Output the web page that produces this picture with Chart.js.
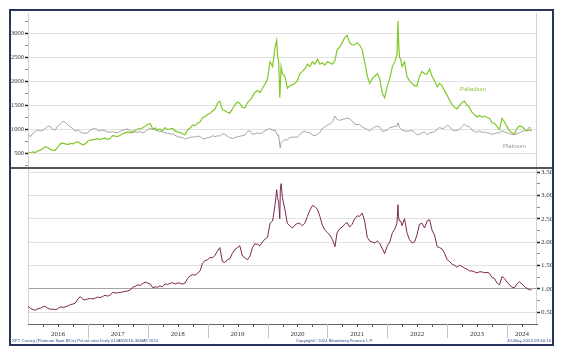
<!DOCTYPE html>
<html><head><meta charset="utf-8">
<script src="https://cdn.jsdelivr.net/npm/chart.js@4/dist/chart.umd.min.js"></script>
<style>
html,body{margin:0;padding:0;background:#fff;}
#wrap{position:relative;width:564px;height:356px;overflow:hidden;background:#fff;}
canvas{position:absolute;left:0;}
#cTop{top:0;}
#cBot{top:168px;}
#frame{position:absolute;left:9px;top:9px;width:541px;height:333px;border:2px solid #27355f;z-index:3;}
#sep{position:absolute;left:11px;top:167px;width:541px;height:2px;background:#555;z-index:3;}
.lbl{position:absolute;font-family:"Liberation Sans",Arial,sans-serif;white-space:nowrap;z-index:4;line-height:1;}
.foot{position:absolute;font-family:"Liberation Sans",Arial,sans-serif;color:#2d4f8e;white-space:nowrap;z-index:4;line-height:1;}
</style></head>
<body>
<div id="wrap">
<canvas id="cTop" width="564" height="168"></canvas>
<canvas id="cBot" width="564" height="188"></canvas>
<div id="frame"></div>
<div id="sep"></div>
<div class="lbl" style="left:460px;top:86px;font-size:6px;color:#8cc63f;">Palladium</div>
<div class="lbl" style="left:503px;top:143px;font-size:6px;color:#9a9a9a;">Platinum</div>
<div class="foot" style="left:12px;top:339px;font-size:4.3px;">XPT Curncy (Platinum Spot $/Oz) Pd val ratio Daily 01JAN2016-30MAY2024</div>
<div class="foot" style="left:296px;top:339px;font-size:4.2px;">Copyright© 2024 Bloomberg Finance L.P.</div>
<div class="foot" style="left:507px;top:339px;font-size:4.4px;">30-May-2024 09:40:15</div>
</div>
<script>
const dates = [
'2016-01-01','2016-01-16','2016-02-01','2016-02-16','2016-03-01','2016-03-16','2016-04-01','2016-04-16','2016-05-01','2016-05-16','2016-06-01','2016-06-16','2016-07-01','2016-07-16','2016-08-01','2016-08-16','2016-09-01','2016-09-16','2016-10-01','2016-10-16','2016-11-01','2016-11-16','2016-12-01','2016-12-16',
'2017-01-01','2017-01-16','2017-02-01','2017-02-16','2017-03-01','2017-03-16','2017-04-01','2017-04-16','2017-05-01','2017-05-16','2017-06-01','2017-06-16','2017-07-01','2017-07-16','2017-08-01','2017-08-16','2017-09-01','2017-09-16','2017-10-01','2017-10-16','2017-11-01','2017-11-16','2017-12-01','2017-12-16',
'2018-01-01','2018-01-16','2018-02-01','2018-02-16','2018-03-01','2018-03-16','2018-04-01','2018-04-16','2018-05-01','2018-05-16','2018-06-01','2018-06-16','2018-07-01','2018-07-16','2018-08-01','2018-08-16','2018-09-01','2018-09-16','2018-10-01','2018-10-16','2018-11-01','2018-11-16','2018-12-01','2018-12-16',
'2019-01-01','2019-01-16','2019-02-01','2019-02-16','2019-03-01','2019-03-16','2019-04-01','2019-04-16','2019-05-01','2019-05-16','2019-06-01','2019-06-16','2019-07-01','2019-07-16','2019-08-01','2019-08-16','2019-09-01','2019-09-16','2019-10-01','2019-10-16','2019-11-01','2019-11-16','2019-12-01','2019-12-16',
'2020-01-01','2020-01-16','2020-02-01','2020-02-16','2020-02-26','2020-03-02','2020-03-09','2020-03-16','2020-03-19','2020-03-24','2020-04-01','2020-04-16','2020-05-01','2020-05-16','2020-06-01','2020-06-16','2020-07-01','2020-07-16','2020-08-01','2020-08-16','2020-09-01','2020-09-16','2020-10-01','2020-10-16','2020-11-01','2020-11-16','2020-12-01','2020-12-16',
'2021-01-01','2021-01-16','2021-02-01','2021-02-16','2021-03-01','2021-03-16','2021-04-01','2021-04-16','2021-05-01','2021-05-16','2021-06-01','2021-06-16','2021-07-01','2021-07-16','2021-08-01','2021-08-16','2021-09-01','2021-09-16','2021-10-01','2021-10-16','2021-11-01','2021-11-16','2021-12-01','2021-12-16',
'2022-01-01','2022-01-16','2022-02-01','2022-02-16','2022-03-01','2022-03-07','2022-03-10','2022-03-16','2022-03-24','2022-04-01','2022-04-16','2022-05-01','2022-05-16','2022-06-01','2022-06-16','2022-07-01','2022-07-16','2022-08-01','2022-08-16','2022-09-01','2022-09-16','2022-10-01','2022-10-16','2022-11-01','2022-11-16','2022-12-01','2022-12-16',
'2023-01-01','2023-01-16','2023-02-01','2023-02-16','2023-03-01','2023-03-16','2023-04-01','2023-04-16','2023-05-01','2023-05-16','2023-06-01','2023-06-16','2023-07-01','2023-07-16','2023-08-01','2023-08-16','2023-09-01','2023-09-16','2023-10-01','2023-10-16','2023-11-01','2023-11-16','2023-12-01','2023-12-16',
'2024-01-01','2024-01-16','2024-02-01','2024-02-16','2024-03-01','2024-03-16','2024-04-01','2024-04-16','2024-05-01','2024-05-16','2024-05-30'
];
const palladium = [
505,510,525,510,545,560,590,630,615,575,555,560,620,690,705,690,675,700,690,720,735,700,670,690,
750,770,780,790,800,780,800,810,780,800,860,850,840,870,900,920,940,920,950,970,1000,1010,1020,1060,
1100,1110,1000,1020,980,1000,960,1030,990,1000,1010,960,940,930,900,880,980,1020,1080,1070,1120,1150,1230,1260,
1300,1330,1380,1420,1530,1580,1400,1380,1350,1330,1420,1500,1560,1530,1450,1440,1550,1600,1680,1760,1800,1760,1850,1930,
2050,2400,2300,2700,2850,2550,2400,1650,1900,2300,2150,2100,1850,1900,1920,1950,2000,2150,2200,2250,2350,2300,2400,2350,2450,2350,2380,2330,
2400,2380,2350,2420,2650,2700,2800,2900,2950,2800,2750,2750,2800,2750,2650,2400,2100,1950,2050,2100,2150,2050,1750,1650,
1900,2050,2300,2400,2550,3250,2900,2500,2450,2300,2400,2100,2000,1950,1900,1900,2100,2200,2150,2150,2250,2100,2000,1880,1950,1900,1800,
1700,1600,1500,1450,1420,1480,1550,1580,1500,1450,1350,1300,1250,1280,1250,1270,1240,1220,1130,1120,1050,990,1220,1150,
1050,960,920,900,1010,1060,1050,1000,960,980,960
];
const platinum = [
880,840,920,950,980,960,970,1010,1060,1050,990,980,1060,1100,1160,1140,1080,1040,1010,950,980,940,920,910,
920,980,1000,1020,970,960,980,960,940,935,940,930,920,950,975,990,1000,960,920,940,930,950,920,940,
990,1010,990,980,960,950,940,920,910,900,890,870,840,830,820,790,810,820,840,830,850,845,800,800,
820,830,860,840,860,850,900,890,850,820,800,820,840,850,860,870,950,960,890,900,920,900,930,960,
990,1010,970,980,900,860,880,650,600,720,740,780,770,820,830,830,830,880,940,950,920,930,870,860,890,930,1010,1040,
1080,1100,1150,1270,1200,1180,1200,1210,1230,1210,1170,1100,1090,1100,1040,1020,990,960,1010,1040,1060,1040,950,960,
980,1030,1040,1060,1060,1130,1120,1030,1000,980,960,950,960,970,930,880,890,920,940,880,920,930,940,1000,1030,1010,1020,
1080,1050,980,960,970,990,1050,1100,1060,1050,980,950,930,960,930,940,920,910,890,900,920,920,960,940,
920,900,890,880,900,920,950,960,970,1040,1010
];
const ratio = [
0.62,0.58,0.55,0.54,0.57,0.58,0.61,0.62,0.58,0.56,0.56,0.55,0.57,0.61,0.60,0.61,0.63,0.66,0.67,0.69,0.78,0.83,0.77,0.76,
0.78,0.79,0.78,0.80,0.82,0.81,0.83,0.86,0.84,0.86,0.92,0.91,0.91,0.92,0.93,0.94,0.95,0.97,1.03,1.05,1.08,1.07,1.11,1.14,
1.12,1.10,1.02,1.04,1.03,1.06,1.04,1.10,1.09,1.11,1.13,1.10,1.12,1.12,1.10,1.12,1.22,1.27,1.30,1.29,1.33,1.38,1.55,1.60,
1.62,1.67,1.66,1.72,1.80,1.88,1.58,1.56,1.62,1.64,1.76,1.84,1.88,1.92,1.70,1.66,1.62,1.70,1.88,1.96,1.95,1.92,2.00,2.06,
2.10,2.40,2.45,2.80,3.12,2.95,2.85,2.50,3.10,3.25,2.95,2.70,2.40,2.35,2.30,2.36,2.40,2.40,2.35,2.40,2.55,2.68,2.78,2.76,2.70,2.55,2.36,2.26,
2.20,2.15,2.05,1.90,2.20,2.28,2.32,2.38,2.42,2.32,2.38,2.50,2.56,2.55,2.62,2.45,2.10,2.02,2.00,1.98,2.02,1.97,1.86,1.75,
1.92,2.00,2.20,2.28,2.40,2.80,2.55,2.45,2.45,2.35,2.50,2.20,2.05,1.98,2.00,2.15,2.38,2.40,2.30,2.45,2.48,2.25,2.15,1.90,1.88,1.85,1.76,
1.62,1.58,1.52,1.50,1.46,1.50,1.48,1.44,1.42,1.38,1.38,1.36,1.34,1.36,1.36,1.34,1.35,1.33,1.24,1.22,1.12,1.08,1.26,1.22,
1.14,1.08,1.03,1.02,1.10,1.15,1.10,1.05,1.00,0.98,0.97
];
const yearLabels = ['2016','2017','2018','2019','2020','2021','2022','2023','2024'];
const yearCenters = [2016.5,2017.5,2018.5,2019.5,2020.5,2021.5,2022.5,2023.5,2024.25];
const yearBounds = [2017,2018,2019,2020,2021,2022,2023,2024];
const priceTicks = [500,1000,1500,2000,2500,3000];
const ratioTicks = [0.5,1.0,1.5,2.0,2.5,3.0,3.5];

const X_MIN = 2016, X_MAX = 2024.5;
function toYear(s){
  const [y,m,d] = s.split('-').map(Number);
  const a = Date.UTC(y,0,1), b = Date.UTC(y+1,0,1);
  return y + (Date.UTC(y,m-1,d)-a)/(b-a);
}
const xv = dates.map(toYear);
const pts = arr => arr.map((v,i)=>({x:xv[i], y:v}));

const edgeLines = {
  id:'edgeLines',
  beforeDatasetsDraw(chart){
    const {ctx, chartArea:a} = chart;
    ctx.save(); ctx.strokeStyle='#d2d2d2'; ctx.lineWidth=1;
    ctx.beginPath();
    ctx.moveTo(a.left+0.5,a.top); ctx.lineTo(a.left+0.5,a.bottom);
    ctx.moveTo(a.right-0.5,a.top); ctx.lineTo(a.right-0.5,a.bottom);
    ctx.stroke(); ctx.restore();
  }
};
const xDecor = {
  id:'xDecor',
  afterDraw(chart){
    const {ctx, chartArea:a} = chart; const sx = chart.scales.x; const b = a.bottom;
    ctx.save(); ctx.lineWidth=1;
    ctx.strokeStyle='#c4c4c4'; ctx.beginPath();
    yearBounds.forEach(y=>{ const p=Math.round(sx.getPixelForValue(y))+0.5; ctx.moveTo(p,b); ctx.lineTo(p,b+14); });
    ctx.stroke();
    ctx.strokeStyle='#555'; ctx.beginPath();
    for(let q=X_MIN+0.25;q<X_MAX;q+=0.25){ if(Math.abs(q-Math.round(q))<1e-9) continue; const p=Math.round(sx.getPixelForValue(q))+0.5; ctx.moveTo(p,b+1); ctx.lineTo(p,b+3); }
    ctx.stroke(); ctx.restore();
  }
};
const isMajor = (v, step) => Math.abs(v/step - Math.round(v/step)) < 1e-9;
const tickFont = {family:'"Liberation Serif", serif', size:6.5};

new Chart(document.getElementById('cTop'), {
  type:'line',
  data:{datasets:[
    {data:pts(palladium), borderColor:'#82c828', borderWidth:1.2, pointRadius:0, tension:0},
    {data:pts(platinum), borderColor:'#a4a4a4', borderWidth:1, pointRadius:0, tension:0}
  ]},
  options:{
    animation:false, responsive:false, devicePixelRatio:1,
    layout:{padding:{left:0,right:27,top:13,bottom:0}},
    plugins:{legend:{display:false}, tooltip:{enabled:false}},
    scales:{
      x:{type:'linear', min:X_MIN, max:X_MAX, display:false},
      y:{type:'linear', min:187.5, max:3416.7,
        afterBuildTicks(s){ const t=[]; for(let v=250; v<=3250; v+=250) t.push({value:v}); s.ticks=t; },
        afterFit(s){ s.width=28; s.paddingTop=0; s.paddingBottom=0; },
        border:{display:false},
        grid:{ color:c=> (c.tick && isMajor(c.tick.value,500)) ? '#e1e1e1' : 'rgba(0,0,0,0)',
               tickColor:c=> (c.tick && isMajor(c.tick.value,500)) ? '#222' : '#888',
               tickWidth:c=> (c.tick && isMajor(c.tick.value,500)) ? 1.5 : 1,
               tickLength:3, drawTicks:true },
        ticks:{ callback:(v)=> priceTicks.includes(v) ? String(v) : '', font:tickFont, color:'#333', padding:1, autoSkip:false }
      }
    }
  },
  plugins:[edgeLines]
});

new Chart(document.getElementById('cBot'), {
  type:'line',
  data:{datasets:[
    {data:pts(ratio), borderColor:'#7d2550', borderWidth:1, pointRadius:0, tension:0}
  ]},
  options:{
    animation:false, responsive:false, devicePixelRatio:1,
    layout:{padding:{left:28,right:0,top:1,bottom:12}},
    plugins:{legend:{display:false}, tooltip:{enabled:false}},
    scales:{
      x:{type:'linear', min:X_MIN, max:X_MAX, position:'bottom',
        afterBuildTicks(s){ s.ticks = yearCenters.map(v=>({value:v})); },
        afterFit(s){ s.height=20; s.paddingLeft=0; s.paddingRight=0; },
        border:{display:true, color:'#666', width:1},
        grid:{drawOnChartArea:false, drawTicks:false},
        ticks:{ callback:(v,i)=> yearLabels[i], font:{family:'"Liberation Serif", serif', size:7}, color:'#333', padding:6, maxRotation:0, minRotation:0, autoSkip:false }
      },
      y:{type:'linear', position:'right', min:0.2429, max:3.5643,
        afterBuildTicks(s){ const t=[]; for(let v=0.5; v<=3.5+1e-9; v+=0.25) t.push({value:Math.round(v*100)/100}); s.ticks=t; },
        afterFit(s){ s.width=27; s.paddingTop=0; s.paddingBottom=0; },
        border:{display:false},
        grid:{ color:c=> { if(!c.tick) return 'rgba(0,0,0,0)'; const v=c.tick.value; if(Math.abs(v-1)<1e-9) return '#a3a3a3'; return isMajor(v,0.5) ? '#e1e1e1' : 'rgba(0,0,0,0)'; },
               tickColor:c=> (c.tick && isMajor(c.tick.value,0.5)) ? '#222' : '#888',
               tickWidth:c=> (c.tick && isMajor(c.tick.value,0.5)) ? 1.5 : 1,
               tickLength:3, drawTicks:true },
        ticks:{ callback:(v)=> ratioTicks.some(r=>Math.abs(r-v)<1e-9) ? v.toFixed(2) : '', font:{family:'"Liberation Serif", serif', size:7}, color:'#333', padding:1, autoSkip:false }
      }
    }
  },
  plugins:[edgeLines, xDecor]
});
</script>
</body></html>
